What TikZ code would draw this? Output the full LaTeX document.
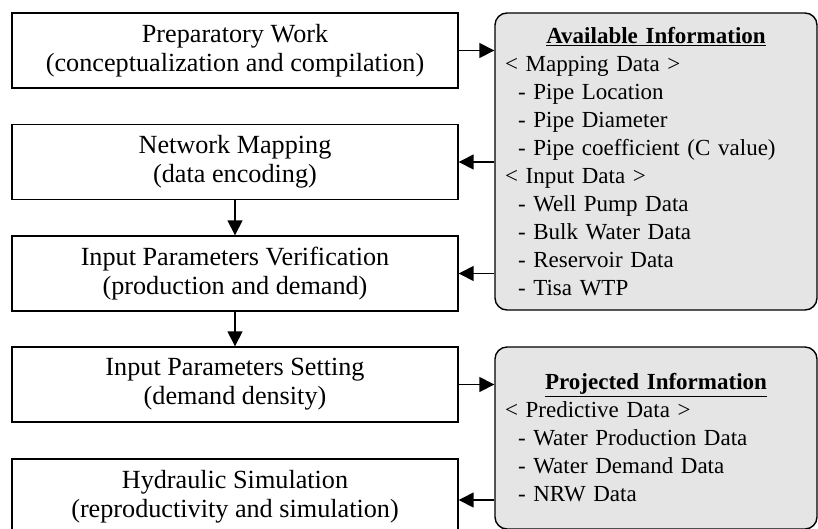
\documentclass[tikz,border=0pt]{standalone}
\usepackage{fontspec}
\setmainfont{Liberation Serif}
\usetikzlibrary{arrows.meta}

\newcommand{\infotitle}[1]{\makebox[\hsize]{\underline{\textbf{#1}}}}

\begin{document}
\begin{tikzpicture}[x=1pt,y=-1pt,
  stepbox/.style={draw,line width=1.4pt,minimum width=446pt,minimum height=75pt,
    inner sep=0pt,align=center,font=\fontsize{26.2}{29}\selectfont},
  infobox/.style={draw,line width=1.4pt,rounded corners=12pt,fill=gray!20,
    minimum width=322pt,text width=302pt,inner xsep=10pt,align=left,
    font=\fontsize{23}{28}\selectfont},
  flow/.style={line width=1.5pt,-{Triangle[length=15pt,width=15pt]}}]

\useasboundingbox (0,0) rectangle (818,528);

% steps
\node[stepbox] (prep)   at (235,50.5)  {Preparatory Work\\(conceptualization and compilation)};
\node[stepbox] (map)    at (235,162)   {Network Mapping\\(data encoding)};
\node[stepbox] (verify) at (235,273.5) {Input Parameters Verification\\(production and demand)};
\node[stepbox] (set)    at (235,384.5) {Input Parameters Setting\\(demand density)};
\node[stepbox] (sim)    at (235,496.5) {Hydraulic Simulation\\(reproductivity and simulation)};

% information boxes
\node[infobox,minimum height=297pt] (avail) at (656,161.5) {\infotitle{Available Information}\\
  < Mapping Data >\\
  \hspace*{13pt}- Pipe Location\\
  \hspace*{13pt}- Pipe Diameter\\
  \hspace*{13pt}- Pipe coefficient (C value)\\
  < Input Data >\\
  \hspace*{13pt}- Well Pump Data\\
  \hspace*{13pt}- Bulk Water Data\\
  \hspace*{13pt}- Reservoir Data\\
  \hspace*{13pt}- Tisa WTP};
\node[infobox,minimum height=182pt] (proj) at (656,438) {\infotitle{Projected Information}\\
  < Predictive Data >\\
  \hspace*{13pt}- Water Production Data\\
  \hspace*{13pt}- Water Demand Data\\
  \hspace*{13pt}- NRW Data};

% arrows
\draw[flow] (prep.east) -- (prep.east -| avail.west);
\draw[flow] (avail.west |- map.east) -- (map.east);
\draw[flow] (avail.west |- verify.east) -- (verify.east);
\draw[flow] (map.south) -- (verify.north);
\draw[flow] (verify.south) -- (set.north);
\draw[flow] (set.east) -- (set.east -| proj.west);
\draw[flow] ([yshift=-3.5pt]proj.west |- sim.east) -- ([yshift=-3.5pt]sim.east);

\end{tikzpicture}
\end{document}
